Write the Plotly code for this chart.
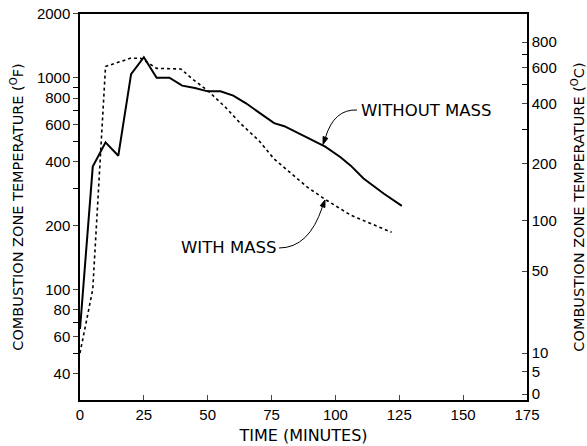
import plotly.graph_objects as go

# ---- data ----
time_without = [0, 5, 10, 15, 20, 25, 30, 35, 40, 45, 50, 55, 60, 65, 70, 76, 80, 88, 96, 102, 106, 111, 119, 126]
temp_without = [65, 380, 495, 428, 1040, 1250, 1000, 1000, 917, 894, 862, 862, 823, 757, 686, 610, 590, 527, 472, 421, 384, 334, 283, 248]

time_with = [0, 5, 10, 20, 24, 30, 39.5, 44, 50, 57, 63, 70, 76, 83, 89, 96, 106, 122]
temp_with = [50, 100, 1130, 1238, 1233, 1107, 1099, 986, 869, 724, 605, 505, 413, 351, 304, 266, 224, 186]

x_ticks = [0, 25, 50, 75, 100, 125, 150, 175]
f_ticks = [40, 60, 80, 100, 200, 400, 600, 800, 1000, 2000]
f_minor = [50, 70, 300, 500, 700, 900]
c_ticks = [0, 5, 10, 50, 100, 200, 400, 600, 800]
c_minor = [300, 500, 700]

def c_to_f(c):
    return c * 9 / 5 + 32

TICKFONT = "Liberation Sans, Arial, sans-serif"
TEXTFONT = "DejaVu Sans, sans-serif"
yrange = [1.477, 3.301]

fig = go.Figure()
fig.add_trace(go.Scatter(x=time_without, y=temp_without, mode="lines",
                         line=dict(color="black", width=2), showlegend=False))
fig.add_trace(go.Scatter(x=time_with, y=temp_with, mode="lines",
                         line=dict(color="black", width=1.6, dash="dot"), showlegend=False))
# invisible trace to activate the right axis
fig.add_trace(go.Scatter(x=[None], y=[None], yaxis="y2", showlegend=False))

fig.update_layout(
    width=587, height=446,
    margin=dict(l=80, r=60, t=14, b=46),
    plot_bgcolor="white", paper_bgcolor="white",
    font=dict(family=TICKFONT, color="black", size=15),
    xaxis=dict(range=[0, 175], tickvals=x_ticks, ticks="inside", ticklen=5,
               showline=True, linecolor="black", linewidth=1.5, mirror=True,
               showgrid=False, zeroline=False, automargin=False,
               tickfont=dict(size=15, family=TICKFONT),
               title=dict(text="TIME (MINUTES)", font=dict(size=16, family=TEXTFONT),
                          standoff=8)),
    yaxis=dict(type="log", range=yrange, tickvals=f_ticks,
               ticktext=[str(v) for v in f_ticks],
               ticks="outside", ticklen=5, showline=True, linecolor="black",
               linewidth=1.5, showgrid=False, zeroline=False, automargin=False,
               tickfont=dict(size=15, family=TICKFONT),
               minor=dict(tickvals=f_minor, ticks="outside", ticklen=5, tickcolor="black"),
               title=dict(text="COMBUSTION ZONE TEMPERATURE (<sup>O</sup>F)",
                          font=dict(size=14.5, family=TEXTFONT), standoff=10)),
    yaxis2=dict(type="log", range=yrange, overlaying="y", side="right",
                tickvals=[c_to_f(c) for c in c_ticks],
                ticktext=[str(c) for c in c_ticks],
                ticks="inside", ticklen=5, showline=True, linecolor="black",
                linewidth=1.5, showgrid=False, zeroline=False, automargin=False,
                tickfont=dict(size=15, family=TICKFONT),
                minor=dict(tickvals=[c_to_f(c) for c in c_minor], ticks="inside",
                           ticklen=5, tickcolor="black"),
                title=dict(text="COMBUSTION ZONE TEMPERATURE (<sup>O</sup>C)",
                           font=dict(size=14.5, family=TEXTFONT), standoff=18)),
)

# paper coords helpers (plot area: x 80..527 px, y 14..400 px)
def px(xp):
    return (xp - 80) / 447

def py(yp):
    return (400 - yp) / 386

def arrow(points_curve, tri):
    (x0, y0), (cx, cy), (x1, y1) = points_curve
    fig.add_shape(type="path", xref="paper", yref="paper",
                  path=f"M {px(x0)},{py(y0)} Q {px(cx)},{py(cy)} {px(x1)},{py(y1)}",
                  line=dict(color="black", width=1))
    (ax_, ay_), (bx, by), (tx, ty) = tri
    fig.add_shape(type="path", xref="paper", yref="paper",
                  path=f"M {px(ax_)},{py(ay_)} L {px(bx)},{py(by)} L {px(tx)},{py(ty)} Z",
                  line=dict(color="black", width=1), fillcolor="black")

# WITHOUT MASS label + curved arrow
fig.add_annotation(x=px(359), y=py(110), xref="paper", yref="paper", text="WITHOUT MASS",
                   showarrow=False, xanchor="left", yanchor="middle",
                   font=dict(size=16.5, family=TEXTFONT))
arrow([(357, 110), (334, 109), (325.5, 137.4)],
      [(327.8, 138.3), (323.1, 136.5), (323, 144.5)])

# WITH MASS label + curved arrow
fig.add_annotation(x=px(278), y=py(248), xref="paper", yref="paper", text="WITH MASS",
                   showarrow=False, xanchor="right", yanchor="middle",
                   font=dict(size=16.5, family=TEXTFONT))
arrow([(279, 248), (309, 248), (322.5, 206.6)],
      [(324.9, 207.5), (320.2, 205.7), (325, 200)])

fig.write_html("out.html", config={"displayModeBar": False},
               post_script="document.body.style.margin='0';")
